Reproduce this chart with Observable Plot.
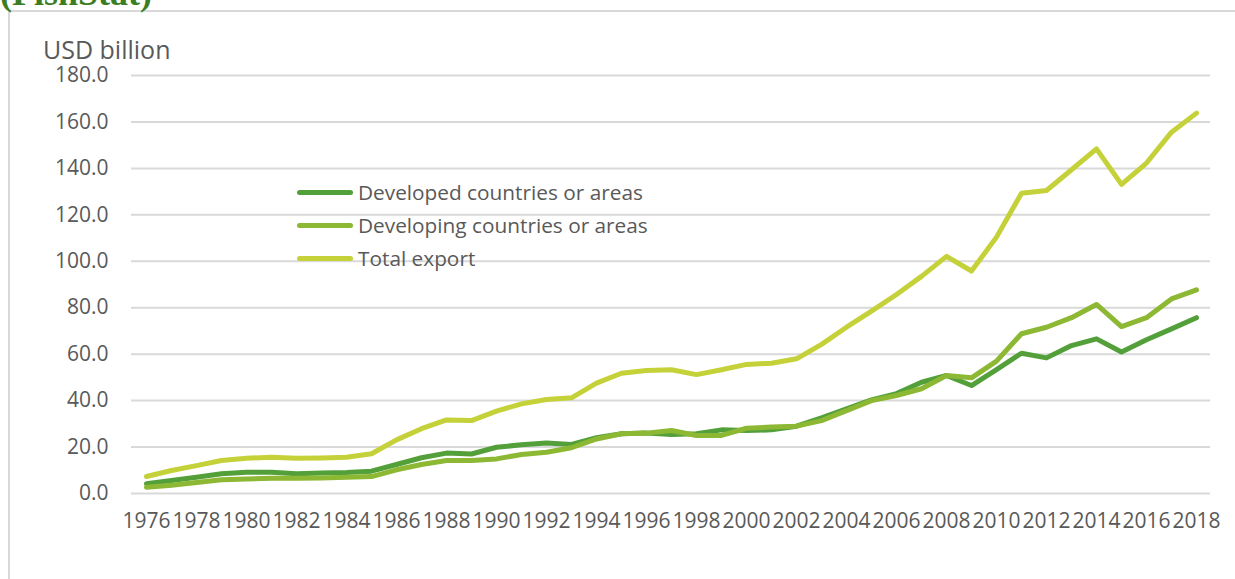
<!DOCTYPE html>
<html>
<head>
<meta charset="utf-8">
<script src="https://cdn.jsdelivr.net/npm/d3@7"></script>
<script src="https://cdn.jsdelivr.net/npm/@observablehq/plot@0.6"></script>
<style>
  html, body { margin: 0; padding: 0; background: #fff; }
  #wrap { position: relative; width: 1235px; height: 579px; overflow: hidden; font-family: "Open Sans", sans-serif; }
  #frame { position: absolute; left: 8px; top: 10px; width: 1400px; height: 800px; border: 2px solid #d9d9d9; box-sizing: border-box; }
  #title { position: absolute; left: 0px; top: -25px; font-family: "Liberation Serif", serif; font-weight: bold; font-size: 36px; line-height: 36px; color: #3b7d23; white-space: nowrap; }
  #unit { position: absolute; left: 43px; top: 37px; font-size: 25px; line-height: 25px; color: #595959; white-space: nowrap; }
  #chart { position: absolute; left: 0; top: 0; }
  .leg { position: absolute; left: 297px; height: 30px; display: flex; align-items: center; white-space: nowrap; }
  .leg .sw { width: 56px; height: 5px; border-radius: 3px; margin-right: 5px; }
  .leg .lb { font-size: 20.8px; color: #595959; line-height: 30px; }
</style>
</head>
<body>
<div id="wrap">
  <div id="frame"></div>
  <div id="title">(FishStat)</div>
  <div id="chart"></div>
  <div id="unit">USD billion</div>
  <div id="legend"></div>
</div>
<script>
const years = d3.range(1976, 2019);
const seriesNames = ["Developed countries or areas", "Developing countries or areas", "Total export"];
const seriesColors = ["#53a03a", "#8cb833", "#c5d138"];
const developed = [4.2,5.6,7.0,8.5,9.2,9.2,8.5,8.8,9.0,9.6,
  12.5,15.4,17.4,17.0,19.9,21.0,21.7,21.1,24.0,25.7,
  26.0,25.4,25.7,27.4,27.1,27.4,29.0,32.6,36.5,40.3,
  43.0,47.9,50.8,46.5,53.3,60.4,58.4,63.7,66.6,60.9,
  66.2,70.9,75.7];
const developing = [2.7,3.6,4.7,5.9,6.2,6.6,6.6,6.7,7.0,7.3,
  10.2,12.5,14.2,14.2,14.9,16.8,17.8,19.7,23.5,25.7,
  26.0,27.1,25.0,25.0,28.1,28.6,29.0,31.4,35.7,40.0,
  42.2,45.1,50.8,49.8,57.0,68.8,71.6,75.7,81.4,71.9,
  75.7,83.8,87.7];
const total = [7.3,9.9,12.0,14.2,15.2,15.6,15.2,15.3,15.6,17.1,
  23.1,27.9,31.7,31.4,35.5,38.6,40.5,41.2,47.5,51.8,
  53.0,53.3,51.2,53.3,55.6,56.1,58.0,64.2,71.6,78.5,
  85.7,93.5,102.1,95.8,110.4,129.3,130.5,139.4,148.4,133.1,
  142.3,155.6,163.8];
const yTicks = [0,20,40,60,80,100,120,140,160,180];
const xTicks = years.filter(y => y % 2 === 0);

const seriesValues = [developed, developing, total];
const rows = seriesValues.map((vals, s) => years.map((yr, i) => ({year: yr, value: vals[i], series: seriesNames[s]})));

const lineOpts = {strokeWidth: 5, strokeLinecap: "round", strokeLinejoin: "round"};

const chart = Plot.plot({
  width: 1235,
  height: 579,
  marginLeft: 131,
  marginRight: 25,
  marginTop: 75,
  marginBottom: 86,
  style: {fontFamily: "Open Sans", fontSize: "21px", color: "#595959", background: "transparent", overflow: "visible"},
  x: {type: "point", domain: years, padding: 0.5, label: null},
  y: {domain: [0, 180], label: null},
  marks: [
    Plot.gridY(yTicks, {stroke: "#d9d9d9", strokeWidth: 2, strokeOpacity: 1}),
    Plot.axisY(yTicks, {tickSize: 0, tickPadding: 23, tickFormat: d => d.toFixed(1), label: null, fill: "#595959"}),
    Plot.axisX(xTicks, {tickSize: 0, tickPadding: 20, tickFormat: d => String(d), label: null, fill: "#595959"}),
    ...rows.map((r, s) => Plot.line(r, {x: "year", y: "value", stroke: seriesColors[s], ...lineOpts}))
  ]
});
document.getElementById("chart").appendChild(chart);

const legendTops = [177, 210, 243];
const legend = document.getElementById("legend");
seriesNames.forEach((name, i) => {
  const item = document.createElement("div");
  item.className = "leg";
  item.style.top = legendTops[i] + "px";
  const sw = document.createElement("div");
  sw.className = "sw";
  sw.style.background = seriesColors[i];
  const lb = document.createElement("span");
  lb.className = "lb";
  lb.textContent = name;
  item.appendChild(sw);
  item.appendChild(lb);
  legend.appendChild(item);
});
</script>
</body>
</html>
